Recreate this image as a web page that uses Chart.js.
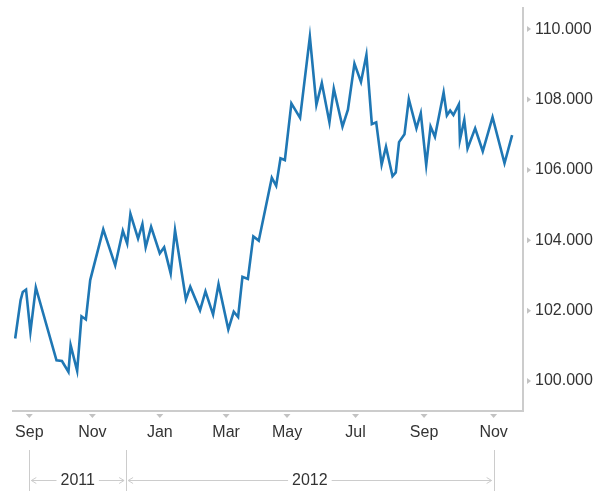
<!DOCTYPE html>
<html>
<head>
<meta charset="utf-8">
<script src="https://cdn.jsdelivr.net/npm/chart.js@4"></script>
<style>
  html, body { margin: 0; padding: 0; background: #fff; }
  #wrap { width: 612px; height: 491px; }
</style>
</head>
<body>
<div id="wrap"><canvas id="myChart" width="612" height="491"></canvas></div>
<script>
// price series
var dates = [
  '2011-08-19', '2011-08-24', '2011-08-26', '2011-08-29', '2011-09-02', '2011-09-07',
  '2011-09-26', '2011-10-01', '2011-10-07', '2011-10-09', '2011-10-15', '2011-10-19',
  '2011-10-23', '2011-10-27', '2011-11-08', '2011-11-19', '2011-11-26', '2011-11-30',
  '2011-12-03', '2011-12-10', '2011-12-14', '2011-12-17', '2011-12-22', '2011-12-30',
  '2012-01-03', '2012-01-09', '2012-01-13', '2012-01-23', '2012-01-27', '2012-02-05',
  '2012-02-10', '2012-02-17', '2012-02-22', '2012-03-02', '2012-03-07', '2012-03-11',
  '2012-03-15', '2012-03-20', '2012-03-25', '2012-03-30', '2012-04-11', '2012-04-15',
  '2012-04-19', '2012-04-23', '2012-04-29', '2012-05-07', '2012-05-16', '2012-05-22',
  '2012-05-27', '2012-06-03', '2012-06-07', '2012-06-15', '2012-06-20', '2012-06-26',
  '2012-07-02', '2012-07-07', '2012-07-12', '2012-07-16', '2012-07-21', '2012-07-25',
  '2012-07-31', '2012-08-03', '2012-08-06', '2012-08-11', '2012-08-15', '2012-08-22',
  '2012-08-26', '2012-08-31', '2012-09-04', '2012-09-08', '2012-09-16', '2012-09-19',
  '2012-09-22', '2012-09-25', '2012-09-30', '2012-10-01', '2012-10-05', '2012-10-08',
  '2012-10-15', '2012-10-22', '2012-10-31', '2012-11-11', '2012-11-18'
];
var prices = [
  101.21, 102.30, 102.53, 102.60, 101.40, 102.66,
  100.59, 100.57, 100.26, 101.02, 100.29, 101.84,
  101.75, 102.87, 104.31, 103.29, 104.27, 103.91,
  104.75, 104.05, 104.46, 103.80, 104.38, 103.63,
  103.80, 103.06, 104.29, 102.32, 102.68, 102.01,
  102.55, 101.89, 102.75, 101.47, 101.97, 101.82,
  102.96, 102.90, 104.11, 103.99, 105.78, 105.55,
  106.33, 106.28, 107.89, 107.48, 109.78, 107.85,
  108.47, 107.35, 108.31, 107.23, 107.71, 109.02,
  108.50, 109.27, 107.30, 107.35, 106.15, 106.66,
  105.82, 105.93, 106.79, 107.01, 108.01, 107.18,
  107.61, 106.14, 107.23, 106.94, 108.20, 107.55,
  107.69, 107.56, 107.86, 106.85, 107.42, 106.61,
  107.18, 106.53, 107.50, 106.19, 106.99
];

// axis ticks
var tickDates = ['2011-09-01', '2011-10-29', '2011-12-30', '2012-02-29', '2012-04-25', '2012-06-27', '2012-08-29', '2012-11-01'];
var tickLabels = ['Sep', 'Nov', 'Jan', 'Mar', 'May', 'Jul', 'Sep', 'Nov'];
var yTicks = [100, 102, 104, 106, 108, 110];
var yearLabels = ['2011', '2012'];

var FONT = "'Liberation Sans', Arial, sans-serif";

function dayNum(s) {
    return Date.parse(s) / 86400000;
}

var points = dates.map(function (d, i) {
    return { x: dayNum(d), y: prices[i] };
});

function triangle(ctx, x, y, dir) {
    ctx.beginPath();
    if (dir == 'down') {
        ctx.moveTo(x - 3.5, y);
        ctx.lineTo(x + 3.5, y);
        ctx.lineTo(x, y + 4);
    }
    else {
        ctx.moveTo(x, y - 3);
        ctx.lineTo(x, y + 3);
        ctx.lineTo(x + 4, y);
    }
    ctx.closePath();
    ctx.fill();
}

function arrowSpan(ctx, a, b, y, label) {
    var mid = (a + b) / 2;
    var w = ctx.measureText(label).width;
    var l1 = mid - w / 2 - 4;
    var r1 = mid + w / 2 + 4;
    ctx.beginPath();
    ctx.moveTo(a + 2, y);
    ctx.lineTo(l1, y);
    ctx.moveTo(r1, y);
    ctx.lineTo(b - 2, y);
    // arrow heads
    ctx.moveTo(a + 7, y - 3);
    ctx.lineTo(a + 2, y);
    ctx.lineTo(a + 7, y + 3);
    ctx.moveTo(b - 7, y - 3);
    ctx.lineTo(b - 2, y);
    ctx.lineTo(b - 7, y + 3);
    ctx.stroke();
    ctx.fillText(label, mid, y);
}

var decor = {
    id: 'decor',
    afterDraw: function (chart) {
        var ctx = chart.ctx;
        var xs = chart.scales.x;
        var ys = chart.scales.y;
        var area = chart.chartArea;
        ctx.save();
        ctx.fillStyle = '#c2c2c2';
        var px = tickDates.map(function (d) { return xs.getPixelForValue(dayNum(d)); });
        px.forEach(function (p) { triangle(ctx, p, area.bottom + 3, 'down'); });
        yTicks.forEach(function (v) { triangle(ctx, area.right + 4, ys.getPixelForValue(v), 'right'); });

        // year brackets
        var edges = [px[0], (px[1] + px[2]) / 2, px[px.length - 1]];
        ctx.strokeStyle = '#cccccc';
        ctx.lineWidth = 1;
        ctx.beginPath();
        edges.forEach(function (e) {
            var ex = Math.round(e) + 0.5;
            ctx.moveTo(ex, 450);
            ctx.lineTo(ex, 491);
        });
        ctx.stroke();
        ctx.font = '16px ' + FONT;
        ctx.fillStyle = '#333';
        ctx.textAlign = 'center';
        ctx.textBaseline = 'middle';
        arrowSpan(ctx, edges[0], edges[1], 480.5, yearLabels[0]);
        arrowSpan(ctx, edges[1], edges[2], 480.5, yearLabels[1]);
        ctx.restore();
    }
};

var ctx = document.getElementById('myChart').getContext('2d');
var myChart = new Chart(ctx, {
    type: 'line',
    data: {
        datasets: [{
            data: points,
            borderColor: 'rgb(31, 119, 180)',
            borderWidth: 2.6,
            pointRadius: 0,
            tension: 0,
            fill: false
        }]
    },
    options: {
        responsive: false,
        animation: false,
        events: [],
        layout: { padding: { left: 13, top: 8, right: 0, bottom: 0 } },
        plugins: { legend: { display: false }, tooltip: { enabled: false } },
        scales: {
            x: {
                type: 'linear',
                min: dayNum('2011-08-17'),
                max: dayNum('2012-11-28'),
                afterBuildTicks: function (scale) {
                    scale.ticks = tickDates.map(function (d) { return { value: dayNum(d) }; });
                },
                afterFit: function (scale) {
                    scale.height = 80;
                    scale.paddingLeft = 0;
                    scale.paddingRight = 0;
                },
                grid: { display: false, drawTicks: false },
                border: { display: true, color: '#cccccc', width: 2 },
                ticks: {
                    autoSkip: false,
                    maxRotation: 0,
                    padding: 12,
                    color: '#333',
                    font: { family: FONT, size: 16 },
                    callback: function (value, index) { return tickLabels[index]; }
                }
            },
            y: {
                position: 'right',
                min: 99.15,
                max: 110.6,
                afterBuildTicks: function (scale) {
                    scale.ticks = yTicks.map(function (v) { return { value: v }; });
                },
                afterFit: function (scale) {
                    scale.width = 89;
                    scale.paddingTop = 0;
                    scale.paddingBottom = 0;
                },
                grid: { display: false, drawTicks: false },
                border: { display: true, color: '#cccccc', width: 2 },
                ticks: {
                    padding: 12,
                    color: '#333',
                    font: { family: FONT, size: 16 },
                    callback: function (value) { return value.toFixed(3); }
                }
            }
        }
    },
    plugins: [decor]
});
</script>
</body>
</html>
